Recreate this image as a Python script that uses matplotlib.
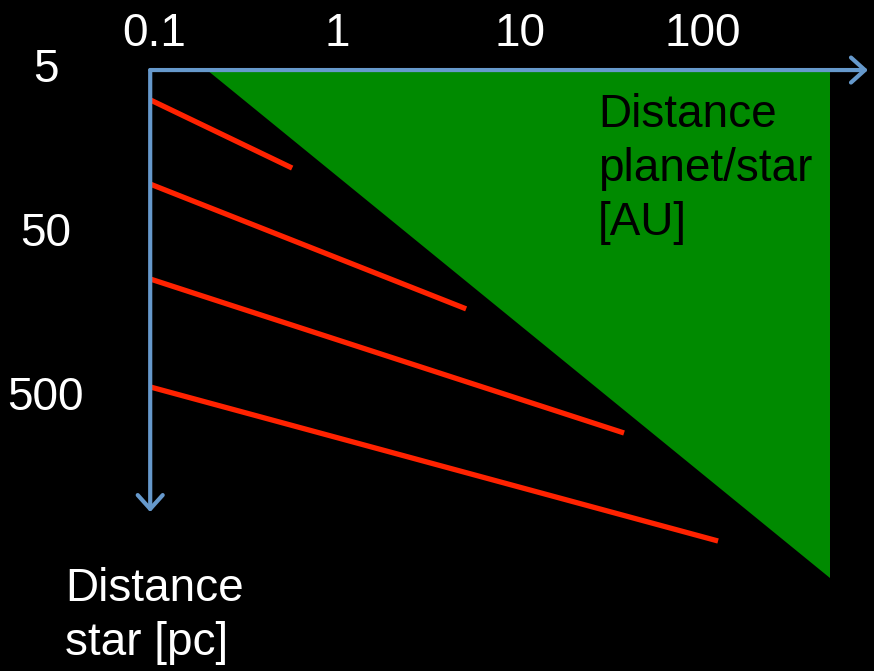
import matplotlib.pyplot as plt
from matplotlib.patches import Polygon, FancyArrowPatch

plt.rcParams["font.family"] = ["Liberation Sans", "DejaVu Sans"]

# Tick values
x_ticks = [0.1, 1, 10, 100]
x_tick_labels = ["0.1", "1", "10", "100"]
y_ticks = [5, 50, 500]
y_tick_labels = ["5", "50", "500"]

# Detectable region (planet/star separation [AU] vs star distance [pc])
zone_sep = [0.205, 520, 520]
zone_dist = [5, 5, 6260]

# Red lines: (sep start, sep end), (dist start, dist end)
lines_sep = [(0.1, 0.597), (0.1, 5.33), (0.1, 38.9), (0.1, 127)]
lines_dist = [(7.6, 19.8), (24.8, 143), (94, 817), (428, 3723)]

# Axis extents
x_origin, x_end = 0.1, 838
y_origin, y_end = 5, 2480

fig = plt.figure(figsize=(8.74, 6.71), dpi=100, facecolor="black")
ax = fig.add_axes([0, 0, 1, 1])
ax.set_facecolor("black")
ax.set_xscale("log")
ax.set_yscale("log")
ax.set_xlim(0.0151, 904)
ax.set_ylim(23100, 1.87)
ax.axis("off")

ax.add_patch(Polygon(list(zip(zone_sep, zone_dist)), closed=True,
                     facecolor="#008A00", edgecolor="none", zorder=1))

for xs, ys in zip(lines_sep, lines_dist):
    ax.plot(xs, ys, color="#FF2200", lw=3.8, solid_capstyle="butt", zorder=2)

axis_col = "#6699CC"
for end in [(x_end, y_origin), (x_origin, y_end)]:
    arr = FancyArrowPatch((x_origin, y_origin), end,
                          arrowstyle="->,head_length=1.0,head_width=0.9",
                          mutation_scale=10, color=axis_col, lw=3,
                          shrinkA=0, shrinkB=0, zorder=3)
    ax.add_patch(arr)

for v, lab in zip(x_ticks, x_tick_labels):
    ax.text(v * 1.05, 3.0, lab, color="white", fontsize=33,
            ha="center", va="center")
for v, lab in zip(y_ticks, y_tick_labels):
    ax.text(0.0268, v * 1.0, lab, color="white", fontsize=33,
            ha="center", va="center")

ax.text(28.0, 6.9, "Distance\nplanet/star\n[AU]", color="black", fontsize=33,
        ha="left", va="top", linespacing=1.3)
ax.text(0.0343, 10670, "Distance\nstar [pc]", color="white", fontsize=33,
        ha="left", va="center", linespacing=1.3)

fig.savefig("out.png", dpi=100, facecolor="black")
